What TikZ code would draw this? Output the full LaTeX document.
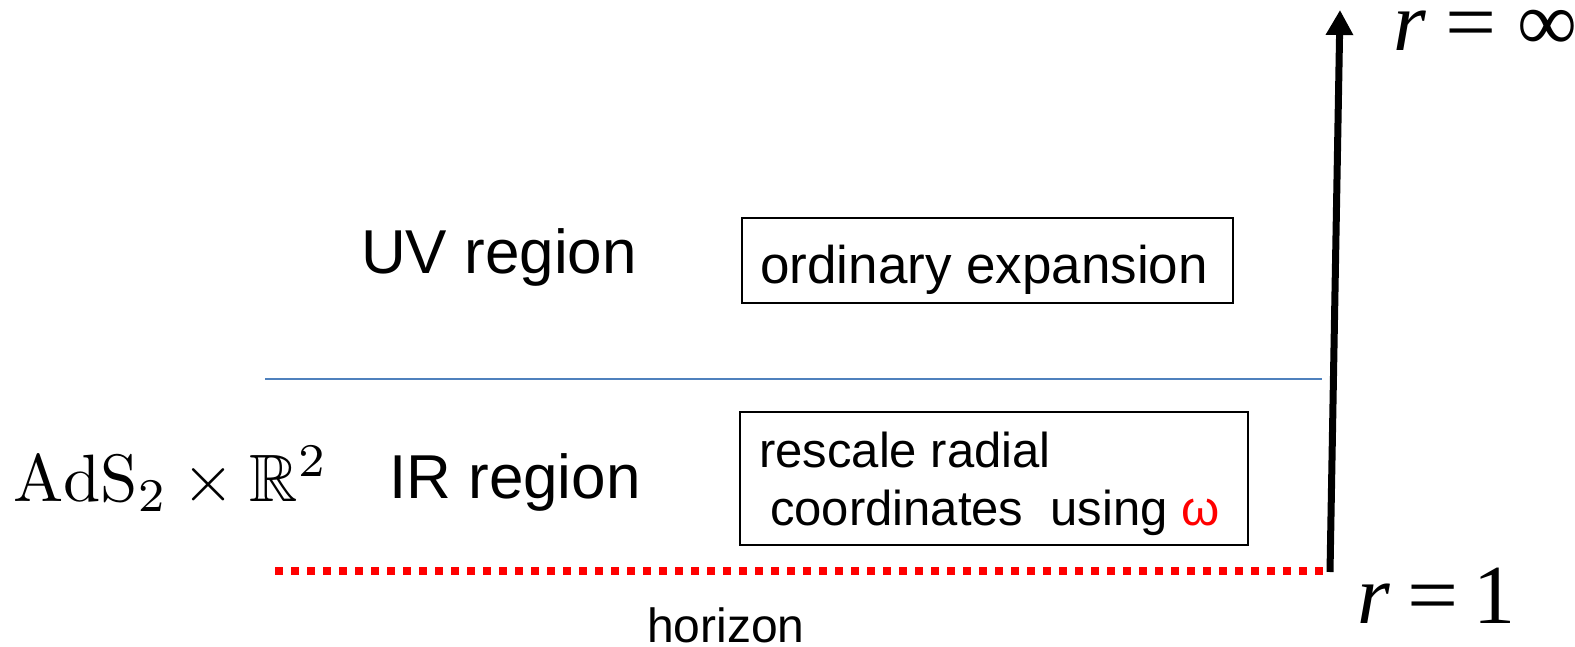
\documentclass[tikz,border=0pt]{standalone}
\usepackage{amssymb}
\usepackage{graphicx}
\usepackage[no-math]{fontspec}
\setmainfont{Liberation Sans}
\newfontfamily\tnr{Liberation Serif}
\usetikzlibrary{arrows.meta}
\definecolor{uvblue}{RGB}{79,129,189}
\definecolor{hred}{RGB}{255,0,0}
\newcommand{\wideeq}{\scalebox{1.08}[1]{=}}
\tikzset{
  txt/.style={inner sep=0pt, anchor=base west},
  boxst/.style={draw=black, line width=2pt, inner sep=0pt},
  bigtxt/.style={txt, font=\fontsize{62}{68}\selectfont},
  boxtxt/.style={txt, font=\fontsize{49}{55}\selectfont},
  mathlbl/.style={txt, font=\tnr\fontsize{84}{88}\selectfont},
}
\begin{document}
\begin{tikzpicture}[x=1pt,y=-1pt]
\useasboundingbox (0,0) rectangle (1575,646);
% region separator and horizon
\coordinate (uvl) at (265,379);
\coordinate (uvr) at (1322,379);
\coordinate (hl) at (275,571);
\coordinate (hr) at (1323,571);
\draw[uvblue, line width=2.8pt] (uvl) -- (uvr);
\draw[hred, line width=8pt, dash pattern=on 8pt off 8pt] (hl) -- (hr);
% radial axis
\coordinate (rbot) at (1330,572);
\coordinate (rtop) at (1340,10);
\draw[line width=7pt, -{Triangle[width=26pt,length=25pt]}] (rbot) -- (rtop);
% labels
\node[mathlbl] (rinf) at (1393,50) {\itshape r\upshape\hspace{20pt}\wideeq\hspace{20pt}∞};
\node[mathlbl] (rone) at (1357,623) {\itshape r\upshape\hspace{18pt}\wideeq\hspace{14pt}1};
\node[bigtxt] (uv) at (361,273) {UV region};
\node[bigtxt] (ir) at (389,498) {IR region};
\node[txt] (ads) at (13,501) {\scalebox{6.7}{$\mathrm{AdS}_2\times\mathbb{R}^2$}};
\node[txt, font=\fontsize{48}{52}\selectfont] (hor) at (647,642) {horizon};
% boxes
\node[boxst, minimum width=491pt, minimum height=85pt] (ordbox) at (987.5,260.5) {};
\node[boxtxt, font=\fontsize{53}{58}\selectfont] (ordtxt) at (760,283) {ordinary expansion};
\node[boxst, minimum width=508pt, minimum height=133pt] (irbox) at (994,478.5) {};
\node[boxtxt] (irtxt1) at (759,467) {rescale radial};
\node[boxtxt] (irtxt2) at (770,525) {coordinates\ \ using {\color{hred}ω}};
\end{tikzpicture}
\end{document}
